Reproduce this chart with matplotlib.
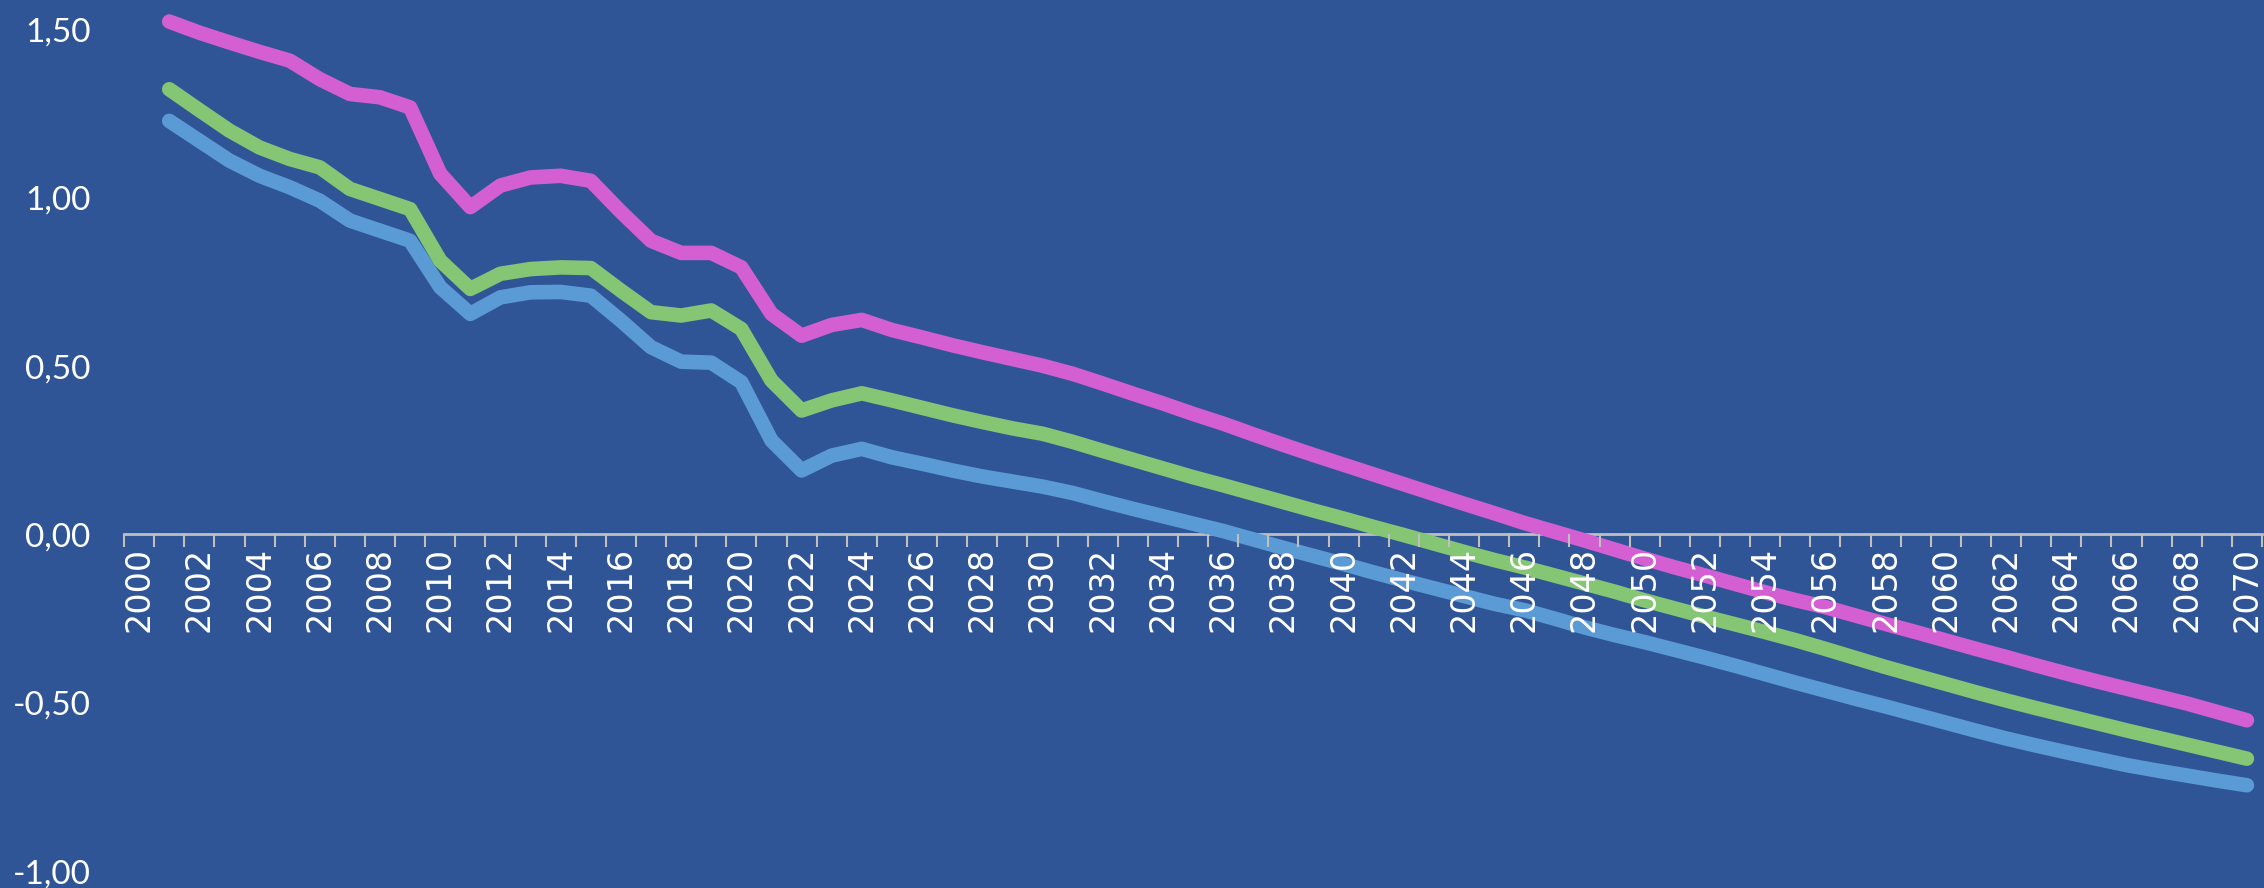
import matplotlib
matplotlib.use("Agg")
import matplotlib.pyplot as plt
import numpy as np
from matplotlib.ticker import FixedLocator, FuncFormatter

# categories on the x axis (2000 is an empty first slot)
categories = list(range(2000, 2071))
years = list(range(2001, 2071))

pink = [1.523, 1.490, 1.461, 1.433, 1.407, 1.352, 1.308, 1.298, 1.268, 1.071,
        0.972, 1.036, 1.060, 1.065, 1.050, 0.958, 0.872, 0.836, 0.836, 0.793,
        0.655, 0.590, 0.622, 0.637, 0.607, 0.585, 0.562, 0.541, 0.521, 0.501,
        0.477, 0.448, 0.418, 0.389, 0.358, 0.329, 0.297, 0.266, 0.236, 0.207,
        0.178, 0.149, 0.120, 0.091, 0.063, 0.034, 0.008, -0.018, -0.045, -0.072,
        -0.098, -0.122, -0.147, -0.172, -0.195, -0.216, -0.241, -0.266, -0.290, -0.315,
        -0.340, -0.364, -0.389, -0.413, -0.436, -0.458, -0.480, -0.502, -0.527, -0.552]

green = [1.322, 1.260, 1.199, 1.149, 1.115, 1.090, 1.026, 0.996, 0.966, 0.813,
         0.729, 0.774, 0.788, 0.793, 0.791, 0.724, 0.660, 0.650, 0.665, 0.610,
         0.457, 0.368, 0.398, 0.419, 0.398, 0.376, 0.354, 0.334, 0.315, 0.299,
         0.275, 0.248, 0.222, 0.196, 0.170, 0.146, 0.121, 0.096, 0.071, 0.047,
         0.022, -0.002, -0.027, -0.052, -0.076, -0.098, -0.122, -0.146, -0.170, -0.196,
         -0.220, -0.244, -0.267, -0.290, -0.314, -0.340, -0.367, -0.394, -0.419, -0.444,
         -0.469, -0.493, -0.516, -0.538, -0.560, -0.582, -0.603, -0.624, -0.645, -0.666]

blue = [1.228, 1.169, 1.110, 1.065, 1.031, 0.991, 0.932, 0.902, 0.872, 0.734,
        0.655, 0.704, 0.719, 0.720, 0.709, 0.635, 0.556, 0.513, 0.510, 0.452,
        0.279, 0.190, 0.234, 0.254, 0.229, 0.210, 0.190, 0.172, 0.157, 0.142,
        0.123, 0.099, 0.076, 0.054, 0.032, 0.010, -0.015, -0.040, -0.064, -0.088,
        -0.113, -0.137, -0.160, -0.183, -0.206, -0.225, -0.250, -0.276, -0.299, -0.320,
        -0.343, -0.366, -0.390, -0.415, -0.440, -0.464, -0.488, -0.511, -0.535, -0.559,
        -0.583, -0.606, -0.627, -0.647, -0.666, -0.685, -0.701, -0.716, -0.731, -0.745]

y_ticks = [-1.0, -0.5, 0.0, 0.5, 1.0, 1.5]

bg = "#2F5597"

fig = plt.figure(figsize=(22.64, 8.88), dpi=100, facecolor=bg)
ax = fig.add_axes([0.0548, 0.019, 0.9443, 0.948])
ax.set_facecolor(bg)
ax.set_axisbelow(False)  # tick labels drawn over the lines, like the original

# category positions
x = [categories.index(y) for y in years]
for vals, col in [(blue, "#5B9BD5"), (green, "#84C673"), (pink, "#D45FD2")]:
    ax.plot(x, vals, color=col, lw=10.5, solid_capstyle="round",
            solid_joinstyle="round", clip_on=False, zorder=2)

ax.set_xlim(-0.5, len(categories) - 0.5)
ax.set_ylim(-1.0, 1.5)

for s in ["top", "right", "left"]:
    ax.spines[s].set_visible(False)
ax.spines["bottom"].set_position(("data", 0))
ax.spines["bottom"].set_color("#BFBFBF")
ax.spines["bottom"].set_linewidth(2)
ax.spines["bottom"].set_zorder(1)

# labels every second year, tick marks between every category
ax.xaxis.set_major_locator(FixedLocator(list(range(0, len(categories), 2))))
ax.xaxis.set_major_formatter(FuncFormatter(lambda v, p: str(categories[int(round(v))])))
ax.xaxis.set_minor_locator(FixedLocator(list(np.arange(-0.5, len(categories), 1.0))))
ax.tick_params(axis="x", which="major", length=0, pad=9, labelsize=24,
               labelcolor="white", labelrotation=90)
ax.tick_params(axis="x", which="minor", length=9, width=1.5, color="#BFBFBF", direction="out")

ax.set_yticks(y_ticks)
ax.set_yticklabels([f"{v:.2f}".replace(".", ",") for v in y_ticks])
ax.tick_params(axis="y", length=0, pad=24, labelsize=24, labelcolor="white")
for lab in ax.get_yticklabels():
    lab.set_family(["Lato", "DejaVu Sans"])

fig.savefig("out.png", dpi=100, facecolor=bg)
